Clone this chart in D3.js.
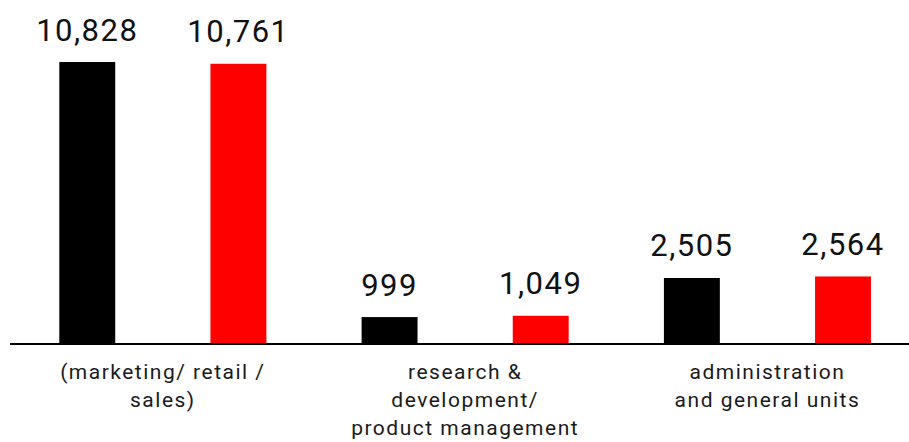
<!DOCTYPE html>
<html><head><meta charset="utf-8">
<script src="https://cdn.jsdelivr.net/npm/d3@7"></script>
<style>
html,body{margin:0;padding:0;background:#fff;}
svg{display:block;}
</style></head>
<body>
<svg id="chart" width="909" height="442"></svg>
<script>
const categories = [["(marketing/ retail /", "sales)"], ["research &", "development/", "product management"], ["administration", "and general units"]];
const categoryKeys = ["marketing", "research", "administration"];
const seriesNames = ["previous", "current"];
const seriesColors = ["#000000", "#ff0000"];
const previousValues = [10828, 999, 2505];
const currentValues = [10761, 1049, 2564];

const svg = d3.select("#chart");
const baseY = 343;
const x0 = d3.scaleBand().domain(categoryKeys).range([11.7, 918.6]).padding(0);
const x1 = d3.scaleBand().domain(seriesNames).range([0, x0.bandwidth()]).paddingInner(0.63).paddingOuter(0.315);
const y = d3.scaleLinear().domain([0, 13218]).range([baseY, 0]);
const color = d3.scaleOrdinal().domain(seriesNames).range(seriesColors);
const fmt = d3.format(",");

const data = categoryKeys.map((k, i) => ({
  key: k,
  values: [{s: "previous", v: previousValues[i]}, {s: "current", v: currentValues[i]}]
}));

const g = svg.selectAll("g.grp").data(data).join("g")
  .attr("class", "grp")
  .attr("transform", d => `translate(${x0(d.key)},0)`);

g.selectAll("rect").data(d => d.values).join("rect")
  .attr("x", d => x1(d.s))
  .attr("width", x1.bandwidth())
  .attr("y", d => y(d.v))
  .attr("height", d => baseY - y(d.v))
  .attr("fill", d => color(d.s));

g.selectAll("text.val").data(d => d.values).join("text")
  .attr("class", "val")
  .attr("x", d => x1(d.s) + x1.bandwidth() / 2)
  .attr("y", d => y(d.v) - 21.5)
  .attr("text-anchor", "middle")
  .style("font-family", "Roboto, sans-serif")
  .style("font-size", "31px")
  .style("letter-spacing", "1.5px")
  .attr("fill", "#111")
  .text(d => fmt(d.v));

// baseline
svg.append("line")
  .attr("x1", 10).attr("x2", 909)
  .attr("y1", baseY + 1).attr("y2", baseY + 1)
  .attr("stroke", "#000").attr("stroke-width", 2);

// category labels
const lab = svg.selectAll("text.cat").data(categoryKeys).join("text")
  .attr("class", "cat")
  .attr("text-anchor", "middle")
  .style("font-family", "Roboto, sans-serif")
  .style("font-size", "21px")
  .style("letter-spacing", "1.5px")
  .attr("fill", "#1a1a1a");
lab.each(function(k, i) {
  const cx = x0(k) + x0.bandwidth() / 2;
  d3.select(this).selectAll("tspan").data(categories[i]).join("tspan")
    .attr("x", cx)
    .attr("y", (d, j) => 379 + j * 28.2)
    .text(d => d);
});
</script>
</body></html>
